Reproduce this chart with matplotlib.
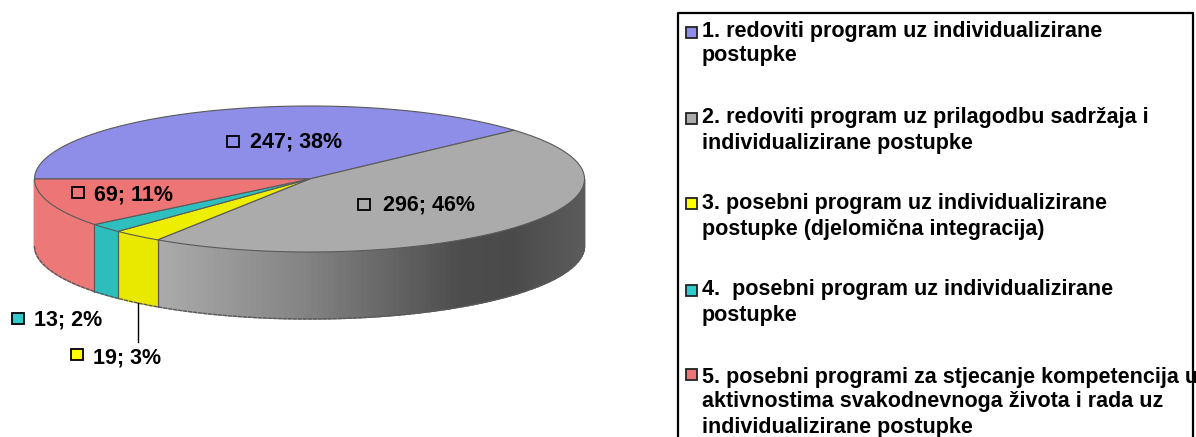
import numpy as np
import matplotlib
matplotlib.use("Agg")
import matplotlib.pyplot as plt
from matplotlib.patches import Rectangle
from matplotlib.colors import to_rgb

values = [247, 296, 19, 13, 69]
percents = [38, 46, 3, 2, 11]
top_colors = ["#8E8EE9", "#ABABAB", "#EEEE00", "#2EBFBF", "#EE7575"]
side_colors = ["#8E8EE9", "#ABABAB", "#E9E900", "#2EBDBD", "#EC7878"]
marker_colors = ["#8E8EE9", "#ABABAB", "#FFFF00", "#2ECCCC", "#EE7575"]
legend_lines = [
    ["1. redoviti program uz individualizirane", "postupke"],
    ["2. redoviti program uz prilagodbu sadržaja i", "individualizirane postupke"],
    ["3. posebni program uz individualizirane", "postupke (djelomična integracija)"],
    ["4.  posebni program uz individualizirane", "postupke"],
    ["5. posebni programi za stjecanje kompetencija u",
     "aktivnostima svakodnevnoga života i rada uz", "individualizirane postupke"],
]
legend_y = [[31, 56], [118, 143], [203, 229], [290, 315], [377, 401, 428]]
legend_marker_y = [32, 118, 203, 290, 374]
label_text_xy = [(250, 142), (383, 205), (93, 358), (34, 320), (94, 195)]
label_marker_xy = [(233, 141), (364, 204), (77, 354), (18, 318), (78, 192)]

FONT = "Liberation Sans"
plt.rcParams["font.family"] = [FONT, "DejaVu Sans"]
fig = plt.figure(figsize=(11.96, 4.37), dpi=100, facecolor="white")
ax = fig.add_axes([0, 0, 1, 1])
ax.set_xlim(0, 1196)
ax.set_ylim(437, 0)
ax.axis("off")

cx, cy, rx, ry, depth = 309.5, 179, 275, 73, 67
EDGE = "#5A5A5A"


def px(t):
    return cx + rx * np.cos(t)


def py(t):
    return cy - ry * np.sin(t)


def gray_side(x):
    stops_x = [157, 300, 460, 510, 584]
    stops_v = [0.67, 0.52, 0.30, 0.29, 0.36]
    v = np.interp(x, stops_x, stops_v)
    return (v, v, v)


# Slice boundaries: clockwise from the left-most point of the ellipse
sweep = np.array(values, dtype=float) / sum(values) * 2 * np.pi
bounds = np.pi - np.concatenate([[0], np.cumsum(sweep)])

# Side wall
for i in range(len(values)):
    a0, a1 = bounds[i], bounds[i + 1]
    lo, hi = max(a1, -np.pi), min(a0, 0)
    if lo >= hi:
        continue
    ts = np.linspace(hi, lo, max(3, int((hi - lo) / 0.02)))
    for t0, t1 in zip(ts[:-1], ts[1:]):
        c = gray_side(px((t0 + t1) / 2)) if i == 1 else to_rgb(side_colors[i])
        xs = [px(t0), px(t1), px(t1), px(t0)]
        ys = [py(t0), py(t1), py(t1) + depth, py(t0) + depth]
        ax.fill(xs, ys, facecolor=c, edgecolor=c, lw=1.0, zorder=2)
    if -np.pi < a1 < 0:
        ax.plot([px(a1)] * 2, [py(a1), py(a1) + depth], color=EDGE, lw=0.9, zorder=3)

t = np.linspace(-np.pi, 0, 300)
ax.plot(px(t), py(t) + depth, color=EDGE, lw=1.0, ls=(0, (3, 0.6)), zorder=3)

# Top surface
for i in range(len(values)):
    ts = np.linspace(bounds[i], bounds[i + 1], 300)
    xs = np.concatenate([[cx], px(ts)])
    ys = np.concatenate([[cy], py(ts)])
    ax.fill(xs, ys, facecolor=top_colors[i], edgecolor=EDGE, lw=0.8, zorder=4)

# Data labels
for i in range(len(values)):
    mx, my = label_marker_xy[i]
    ax.add_patch(Rectangle((mx - 6, my - 5.5), 12, 11, facecolor=marker_colors[i] if i in (2, 3) else top_colors[i],
                           edgecolor="black", lw=1.3, zorder=6))
    ax.text(*label_text_xy[i], f"{values[i]}; {percents[i]}%", fontsize=15.5, fontweight="bold",
            ha="left", va="center", color="black", zorder=6)

# Leader line for the yellow slice
mid = (bounds[2] + bounds[3]) / 2
ax.plot([px(mid) + 1] * 2, [py(mid) + depth, 342], color="black", lw=1.0, zorder=5)

# Legend box
ax.plot([677.5, 677.5, 1192.5, 1192.5], [437, 13, 13, 437], color="black", lw=1.6, zorder=1)
for i, lines in enumerate(legend_lines):
    ax.add_patch(Rectangle((686, legend_marker_y[i] - 5.5), 11, 11, facecolor=marker_colors[i],
                           edgecolor="#222222", lw=1.3, zorder=6))
    for j, line in enumerate(lines):
        ax.text(702, legend_y[i][j], line, fontsize=15.5, fontweight="bold", ha="left", va="center",
                color="black", zorder=6)

fig.savefig("out.png", dpi=100, facecolor="white")
